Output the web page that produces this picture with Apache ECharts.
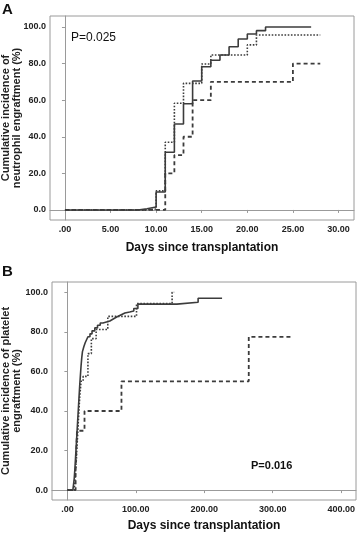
<!DOCTYPE html>
<html lang="en">
<head>
<meta charset="UTF-8">
<title>Engraftment</title>
<style>
  html, body { margin: 0; padding: 0; background: #fff; }
  #chart { width: 358px; height: 534px; }
</style>
</head>
<body>
<div id="chart"></div>
<script src="https://cdn.jsdelivr.net/npm/echarts@6/dist/echarts.min.js"></script>
<script>
// panel A - neutrophil engraftment (days, cumulative %)
var aSolidDays = [0, 8, 9, 10, 11, 12, 13, 14, 15, 16, 17, 18, 19, 20, 21, 22, 27];
var aSolidPct = [0, 0.6, 1.6, 9.8, 31.5, 47, 58, 70.5, 78.3, 81.8, 84.7, 89.2, 93.4, 96.2, 98, 100, 100];
var aDotDays = [0, 9, 10, 11, 12, 13, 15, 16, 20, 21, 28];
var aDotPct = [0, 0.5, 10.4, 37, 58.3, 69.2, 79.8, 84.7, 90.2, 95.6, 95.6];
var aDashDays = [0, 11, 12, 13, 14, 16, 25, 28];
var aDashPct = [0, 20, 30, 40, 60, 70, 80, 80];

// panel B - platelet engraftment
var bSolidDays = [0, 8, 10, 11, 12, 13, 14, 15, 16, 17, 18, 19, 20, 21, 22, 24, 26, 28, 30, 33, 36, 40, 44, 48, 52, 57, 62, 67, 72, 78, 84, 91, 97, 103, 160, 191, 226];
var bSolidPct = [0, 1, 6, 11, 17, 23, 29, 35, 41, 47, 53, 58, 63, 67, 70, 72.5, 74.5, 76, 77.5, 79, 80.5, 82, 83.3, 84.5, 85, 85.5, 86.5, 87.5, 88.5, 89.5, 90, 90.5, 91.8, 94, 95, 97, 97];
var bDotDays = [0, 10, 11, 12, 13, 14, 15, 16, 17, 18, 20, 23, 30, 35, 42, 59, 101, 153, 156];
var bDotPct = [0, 1, 5, 10, 15, 22, 28, 35, 41, 47, 55, 57.5, 69, 76.6, 81.2, 87.8, 94.3, 100, 100];
var bDashDays = [0, 12, 13, 14, 25, 79, 265, 330];
var bDashPct = [0, 10, 20, 30, 40, 55, 77.5, 77.5];

var yTicks = [0, 20, 40, 60, 80, 100];
var aXTicks = [0, 5, 10, 15, 20, 25, 30];
var bXTicks = [0, 100, 200, 300, 400];

function pairs(xs, ys) {
  return xs.map(function (x, i) { return [x, ys[i]]; });
}

var frame = '#9a9a9a';
var ink = '#3c3c3c';
var tickFont = { color: '#222', fontSize: 9, fontWeight: 'bold', fontFamily: 'Liberation Sans' };

function xAx(idx, min, max, ticks) {
  return {
    type: 'value', gridIndex: idx, min: min, max: max,
    splitLine: { show: false },
    axisLine: { lineStyle: { color: frame } },
    axisTick: { customValues: ticks, length: 3, lineStyle: { color: frame } },
    axisLabel: Object.assign({
      customValues: ticks, margin: 5,
      formatter: function (v) { return v === 0 ? '.00' : v.toFixed(2); }
    }, tickFont)
  };
}
function yAx(idx, min, max) {
  return {
    type: 'value', gridIndex: idx, min: min, max: max,
    splitLine: { show: false },
    axisLine: { show: true, lineStyle: { color: frame } },
    axisTick: { show: true, customValues: yTicks, length: 3, lineStyle: { color: frame } },
    axisLabel: Object.assign({
      customValues: yTicks, margin: 4,
      formatter: function (v) { return v.toFixed(1); }
    }, tickFont)
  };
}
function km(idx, data, type, width) {
  return {
    type: 'line', xAxisIndex: idx, yAxisIndex: idx,
    step: 'end', symbol: 'none', data: data, silent: true,
    lineStyle: { color: ink, width: width, type: type }
  };
}

var chart = echarts.init(document.getElementById('chart'));
chart.setOption({
  animation: false,
  backgroundColor: '#fff',
  grid: [
    { left: 50, top: 16, width: 304, height: 204, show: true, borderColor: frame, borderWidth: 1 },
    { left: 52, top: 282, width: 304, height: 218, show: true, borderColor: frame, borderWidth: 1 }
  ],
  xAxis: [xAx(0, -1.64, 31.7, aXTicks), xAx(1, -22.5, 421.7, bXTicks)],
  yAxis: [yAx(0, -5.5, 106), yAx(1, -5, 105.2)],
  series: [
    km(0, pairs(aDashDays, aDashPct), [4, 3], 1.8),
    km(0, pairs(aDotDays, aDotPct), 'dotted', 1.6),
    km(0, pairs(aSolidDays, aSolidPct), 'solid', 1.6),
    km(1, pairs(bDashDays, bDashPct), [4, 3], 1.8),
    km(1, pairs(bDotDays, bDotPct), 'dotted', 1.6),
    km(1, pairs(bSolidDays, bSolidPct), 'solid', 1.6)
  ],
  graphic: [
    { type: 'text', left: 2, top: 2, style: { text: 'A', font: 'bold 15px "Liberation Sans"', fill: '#111' } },
    { type: 'text', left: 2, top: 264, style: { text: 'B', font: 'bold 15px "Liberation Sans"', fill: '#111' } },
    { type: 'text', x: 11, y: 118, rotation: Math.PI / 2,
      style: { text: 'Cumulative incidence of\nneutrophil engraftment (%)', align: 'center', verticalAlign: 'middle',
               lineHeight: 11, font: 'bold 11px "Liberation Sans"', fill: '#222' } },
    { type: 'text', x: 11, y: 391, rotation: Math.PI / 2,
      style: { text: 'Cumulative incidence of platelet\nengraftment (%)', align: 'center', verticalAlign: 'middle',
               lineHeight: 11, font: 'bold 11px "Liberation Sans"', fill: '#222' } },
    { type: 'text', x: 202, y: 248,
      style: { text: 'Days since transplantation', align: 'center', verticalAlign: 'middle',
               font: 'bold 12px "Liberation Sans"', fill: '#111' } },
    { type: 'text', x: 204, y: 526,
      style: { text: 'Days since transplantation', align: 'center', verticalAlign: 'middle',
               font: 'bold 12px "Liberation Sans"', fill: '#111' } },
    { type: 'text', x: 71, y: 38,
      style: { text: 'P=0.025', align: 'left', verticalAlign: 'middle',
               font: '12px "Liberation Sans"', fill: '#111' } },
    { type: 'text', x: 251, y: 466,
      style: { text: 'P=0.016', align: 'left', verticalAlign: 'middle',
               font: 'bold 11px "Liberation Sans"', fill: '#111' } }
  ]
});
</script>
</body>
</html>
